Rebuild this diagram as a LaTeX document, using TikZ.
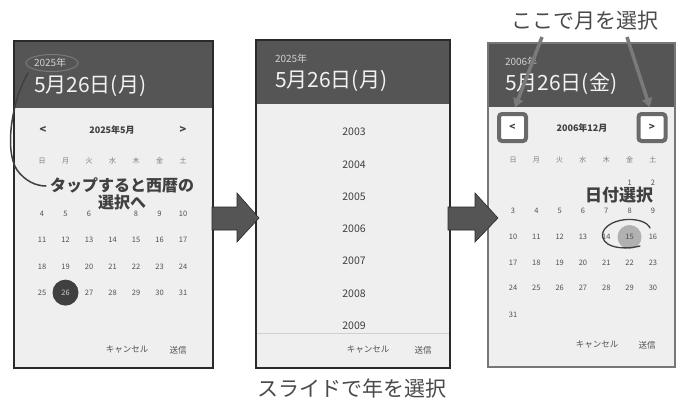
\documentclass[tikz,border=0pt]{standalone}
\usepackage{fontspec}
\setmainfont{Noto Sans CJK JP}
\usetikzlibrary{arrows.meta}
\definecolor{hdr}{HTML}{555555}
\definecolor{calbg}{HTML}{EFEFEF}
\definecolor{framec}{HTML}{2A2A2A}
\definecolor{framer}{HTML}{777777}
\definecolor{hdrsmall}{HTML}{D0D0D0}
\definecolor{hdrbig}{HTML}{F2F2F2}
\definecolor{datec}{HTML}{505050}
\definecolor{wdc}{HTML}{7A7A7A}
\definecolor{annot}{HTML}{404040}
\definecolor{capc}{HTML}{4A4A4A}
\definecolor{btnbox}{HTML}{6A6A6A}
\definecolor{arrfill}{HTML}{555555}
\definecolor{callarr}{HTML}{7A7A7A}
\newcommand{\fsz}[1]{\fontsize{#1}{#1}\selectfont}
\begin{document}
\begin{tikzpicture}[x=1pt,y=-1pt,
  every node/.style={inner sep=0pt,outer sep=0pt},
  dt/.style={font=\fsz{7.5}, text=datec},
  wd/.style={font=\fsz{7}, text=wdc},
  hsmall/.style={anchor=west, font=\fsz{10}, text=hdrsmall},
  hbig/.style={anchor=west, font=\fsz{21}, text=hdrbig},
  btn/.style={font=\fsz{8.5}, text=datec},
  monthlbl/.style={font=\bfseries\fsz{9}, text=annot},
  chev/.style={font=\bfseries\fsz{11}, text=annot},
  bigcap/.style={font=\fsz{21}, text=capc},
  blockarrow/.style={fill=arrfill, draw=framec, line width=0.6pt},
  callout/.style={-{Triangle[length=9pt,width=10pt]}, line width=3.5pt, draw=callarr},
  handline/.style={draw=annot, line width=1.5pt, line cap=round},
  navbox/.style={draw=btnbox, line width=4pt, rounded corners=3pt, fill=white, minimum width=27pt, minimum height=27pt, font=\bfseries\fsz{10}, text=annot}
]
\useasboundingbox (0,0) rectangle (682,399);
\fill[white] (0,0) rectangle (682,399);

% ---------------- left panel
\fill[calbg] (14,41) rectangle (213,368);
\fill[hdr] (14,41) rectangle (213,108);
\draw[framec, line width=2pt] (14,41) rectangle (213,368);
\node[hsmall] (ly) at (34,63) {2025年};
\node[hbig] (ld) at (34,86) {5月26日(月)};
\node[chev] (lprev) at (43,130) {<};
\node[monthlbl] (lmon) at (112,130) {2025年5月};
\node[chev] (lnext) at (183,130) {>};
\foreach \w [count=\i from 0] in {日,月,火,水,木,金,土}
  \node[wd] (lw\i) at ({42+23.5*\i},161) {\w};
\foreach \r [count=\j from 0] in {4,11,18,25}
  \foreach \i in {0,...,6}{
    \pgfmathtruncatemacro\d{\r+\i}
    \ifnum\d=7\relax\else\ifnum\d=26\relax\else
      \node[dt] (ld\d) at ({42+23.5*\i},{214+26.2*\j}) {\d};
    \fi\fi
  }
\fill[annot] (65.5,292.6) circle (13);
\node[dt, text=hdrsmall] (ld26) at (65.5,292.6) {26};
\node[btn] (lcan) at (127,350) {キャンセル};
\node[btn] (lsend) at (178,350) {送信};
% annotation
\node[font=\bfseries\fontsize{16}{17}\selectfont, text=annot, align=center] (ltap) at (122,193.5) {タップすると西暦の\\選択へ};
\draw[draw=wdc, line width=1pt] (52,63) ellipse [x radius=26, y radius=8.5];
\coordinate (lc1) at (28,73);
\coordinate (lc2) at (46,186);
\draw[handline] (lc1) .. controls (12,100) and (4,150) .. (17,170) .. controls (25,181) and (36,186) .. (lc2);

% ---------------- middle panel
\fill[calbg] (256,40) rectangle (450,368);
\fill[hdr] (256,40) rectangle (450,104);
\draw[framec, line width=1.5pt] (256,40) rectangle (450,368);
\node[hsmall] (my) at (275,59) {2025年};
\node[hbig] (md) at (275,81) {5月26日(月)};
\foreach \yr [count=\k from 0] in {2003,...,2009}
  \node[font=\fsz{10.5}, text=annot] (y\yr) at (354,{132+32.3*\k}) {\yr};
\draw[draw=hdrsmall, line width=0.8pt] (257,333) -- (449,333);
\node[btn] (mcan) at (368,350) {キャンセル};
\node[btn] (msend) at (423,350) {送信};
\node[bigcap] (cap2) at (352,388) {スライドで年を選択};

% ---------------- right panel
\fill[calbg] (488,43) rectangle (675,367);
\fill[hdr] (488,43) rectangle (675,107);
\draw[framer, line width=1.2pt] (488,43) rectangle (675,367);
\node[hsmall] (ry) at (505,62) {2006年};
\node[hbig] (rd) at (505,84) {5月26日(金)};
\node[navbox] (rprev) at (512.5,127.5) {<};
\node[navbox] (rnext) at (652,127.5) {>};
\node[monthlbl] (rmon) at (582,128) {2006年12月};
\foreach \w [count=\i from 0] in {日,月,火,水,木,金,土}
  \node[wd] (rw\i) at ({513+23.33*\i},160) {\w};
\node[dt] (rd1) at ({513+23.33*5},183) {1};
\node[dt] (rd2) at ({513+23.33*6},183) {2};
\foreach \r/\yy in {3/211,10/237,17/263,24/288}
  \foreach \i in {0,...,6}{
    \pgfmathtruncatemacro\d{\r+\i}
    \ifnum\d=15\relax\else
      \node[dt] (rd\d) at ({513+23.33*\i},\yy) {\d};
    \fi
  }
\node[dt] (rd31) at (513,315) {31};
\fill[hdrsmall!85!black] (629.5,237) circle (12);
\node[dt] (rd15) at (629.5,237) {15};
\node[font=\bfseries\fsz{17}, text=annot] (rsel) at (619,195) {日付選択};
\draw[handline, line width=1.3pt] (650,228) .. controls (645,216) and (610,216) .. (603,232) .. controls (599,246) and (620,251) .. (640,246);
\node[btn] (rcan) at (597,345) {キャンセル};
\node[btn] (rsend) at (647,345) {送信};
\node[bigcap] (cap1) at (585,21) {ここで月を選択};
\coordinate (ca1) at (542,37);
\coordinate (ca2) at (627,37);
\draw[callout, shorten >=7pt] (ca1) -- (rprev.north);
\draw[callout, shorten >=7pt] (ca2) -- (rnext.north);

% ---------------- block arrows
\fill[blockarrow] (212,207) -- (237,207) -- (237,193) -- (259,218) -- (237,242) -- (237,230) -- (212,230) -- cycle;
\fill[blockarrow] (448,207) -- (475,207) -- (475,193) -- (498,218) -- (475,242) -- (475,230) -- (448,230) -- cycle;
\end{tikzpicture}
\end{document}
